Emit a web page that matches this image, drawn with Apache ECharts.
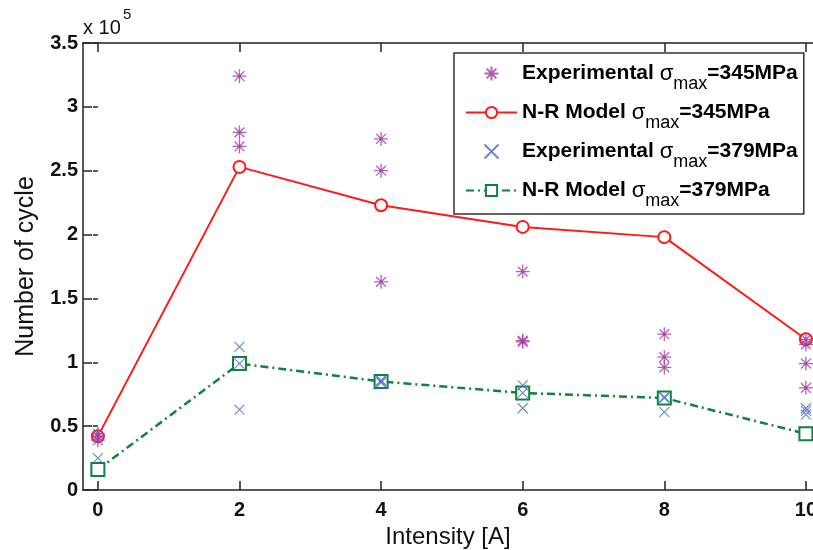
<!DOCTYPE html>
<html>
<head>
<meta charset="utf-8">
<script src="https://cdn.jsdelivr.net/npm/echarts@6/dist/echarts.min.js"></script>
<style>
html,body{margin:0;padding:0;background:#fff;}
#chart{width:813px;height:550px;}
</style>
</head>
<body>
<div id="chart"></div>
<script>
// ---- data ----
var xTicks = [0, 2, 4, 6, 8, 10];
var intensity = [0, 2, 4, 6, 8, 10];
var model345 = [0.42, 2.53, 2.23, 2.06, 1.98, 1.18];
var model379 = [0.16, 0.99, 0.85, 0.76, 0.72, 0.44];
var exp345X = [0, 0, 0, 2, 2, 2, 4, 4, 4, 6, 6, 6, 8, 8, 8, 10, 10, 10, 10];
var exp345Y = [0.42, 0.39, 0.44, 3.24, 2.80, 2.69, 2.75, 2.50, 1.63, 1.71, 1.17, 1.16, 1.22, 1.04, 0.96, 1.14, 0.99, 0.80, 1.18];
var exp379X = [0, 2, 2, 2, 4, 4, 4, 6, 6, 6, 8, 8, 8, 10, 10, 10];
var exp379Y = [0.25, 1.12, 0.99, 0.63, 0.86, 0.84, 0.85, 0.82, 0.76, 0.64, 0.72, 0.73, 0.61, 0.64, 0.62, 0.59];
var seriesNames = ['Exp345', 'NR345', 'Exp379', 'NR379'];
var legendParts = {
  Exp345: ['Experimental ', '=345MPa'],
  NR345: ['N-R Model ', '=345MPa'],
  Exp379: ['Experimental ', '=379MPa'],
  NR379: ['N-R Model ', '=379MPa']
};

function pairs(xs, ys) { return xs.map(function (x, i) { return [x, ys[i]]; }); }

var FONT = '"Liberation Sans", Arial, sans-serif';
var starPath = 'path://M0,-10L0,10M-10,0L10,0M-7,-7L7,7M-7,7L7,-7M-1.6,-1.6L1.6,-1.6L1.6,1.6L-1.6,1.6Z';
var xPath = 'path://M-10,-10L10,10M-10,10L10,-10';

var chart = echarts.init(document.getElementById('chart'), null, {renderer: 'canvas'});
var axisLine = {show: true, onZero: false, lineStyle: {color: '#222', width: 1.5}};
var tickStyle = {color: '#222', width: 1.5};
var option = {
  animation: false,
  backgroundColor: '#fff',
  grid: {left: 83, top: 43, right: 0, bottom: 60, containLabel: false, outerBoundsMode: 'none'},
  xAxis: [{
    type: 'value', min: -0.21, max: 10.1, position: 'bottom',
    axisLine: axisLine,
    axisTick: {show: true, inside: true, length: 9, customValues: xTicks, lineStyle: tickStyle},
    axisLabel: {customValues: xTicks, margin: 10, fontFamily: FONT, fontWeight: 'bold', fontSize: 20, color: '#111'},
    splitLine: {show: false},
    name: 'Intensity [A]', nameLocation: 'middle', nameGap: 33,
    nameTextStyle: {fontFamily: FONT, fontSize: 24, color: '#111'}
  }, {
    type: 'value', min: -0.21, max: 10.1, position: 'top',
    axisLine: axisLine,
    axisTick: {show: true, inside: true, length: 9, customValues: xTicks, lineStyle: tickStyle},
    axisLabel: {show: false}, splitLine: {show: false}
  }],
  yAxis: [{
    type: 'value', min: 0, max: 3.5, interval: 0.5, position: 'left',
    axisLine: axisLine,
    axisTick: {show: true, inside: true, length: 9, lineStyle: tickStyle},
    axisLabel: {margin: 5, fontFamily: FONT, fontWeight: 'bold', fontSize: 20, color: '#111',
      formatter: function (v) { return String(v); }},
    splitLine: {show: false},
    name: 'Number of cycle', nameLocation: 'middle', nameGap: 44, nameRotate: 90,
    nameTextStyle: {fontFamily: FONT, fontSize: 25, color: '#111'}
  }, {
    type: 'value', min: 0, max: 3.5, interval: 0.5, position: 'right',
    axisLine: {show: false},
    axisTick: {show: true, inside: true, length: 5, lineStyle: tickStyle},
    axisLabel: {show: false}, splitLine: {show: false}
  }],
  legend: {
    orient: 'vertical', left: 454, top: 53,
    padding: [1, 6, 4, 11], itemGap: 0, itemWidth: 51, itemHeight: 14,
    borderColor: '#333', borderWidth: 1.5, backgroundColor: '#fff',
    data: seriesNames,
    formatter: function (name) {
      var p = legendParts[name];
      return '{b|' + p[0] + '}{s|σ}{sub|max}{b|' + p[1] + '}';
    },
    textStyle: {
      rich: {
        b: {fontFamily: FONT, fontWeight: 'bold', fontSize: 21, color: '#000', lineHeight: 24},
        s: {fontFamily: FONT, fontSize: 22, color: '#000', lineHeight: 24},
        sub: {fontFamily: FONT, fontSize: 18, color: '#000', lineHeight: 18, padding: [21, 0, 0, 0]}
      }
    }
  },
  graphic: [{
    type: 'text', left: 83, top: 18,
    style: {text: 'x 10', fontFamily: FONT, fontSize: 20, fill: '#111'}
  }, {
    type: 'text', left: 123, top: 7,
    style: {text: '5', fontFamily: FONT, fontSize: 15, fill: '#111'}
  }],
  series: [{
    name: 'Exp345', type: 'scatter', data: pairs(exp345X, exp345Y),
    symbol: starPath, symbolSize: 14,
    itemStyle: {color: '#a03ca0', borderColor: '#a03ca0', borderWidth: 1.3}, z: 3
  }, {
    name: 'NR345', type: 'line', data: pairs(intensity, model345),
    symbol: 'emptyCircle', symbolSize: 12,
    lineStyle: {color: '#ff1a1a', width: 2},
    itemStyle: {color: '#ff1a1a', borderColor: '#ff1a1a', borderWidth: 2}, z: 2
  }, {
    name: 'Exp379', type: 'scatter', data: pairs(exp379X, exp379Y),
    symbol: xPath, symbolSize: 10,
    itemStyle: {color: '#4a68c4', borderColor: '#4a68c4', borderWidth: 1.1}, z: 4
  }, {
    name: 'NR379', type: 'line', data: pairs(intensity, model379),
    symbol: 'emptyRect', symbolSize: 13,
    lineStyle: {color: '#118040', width: 2.5, type: [8, 4, 2, 4]},
    itemStyle: {color: '#118040', borderColor: '#118040', borderWidth: 2.5}, z: 2
  }]
};
chart.setOption(option);
</script>
</body>
</html>
